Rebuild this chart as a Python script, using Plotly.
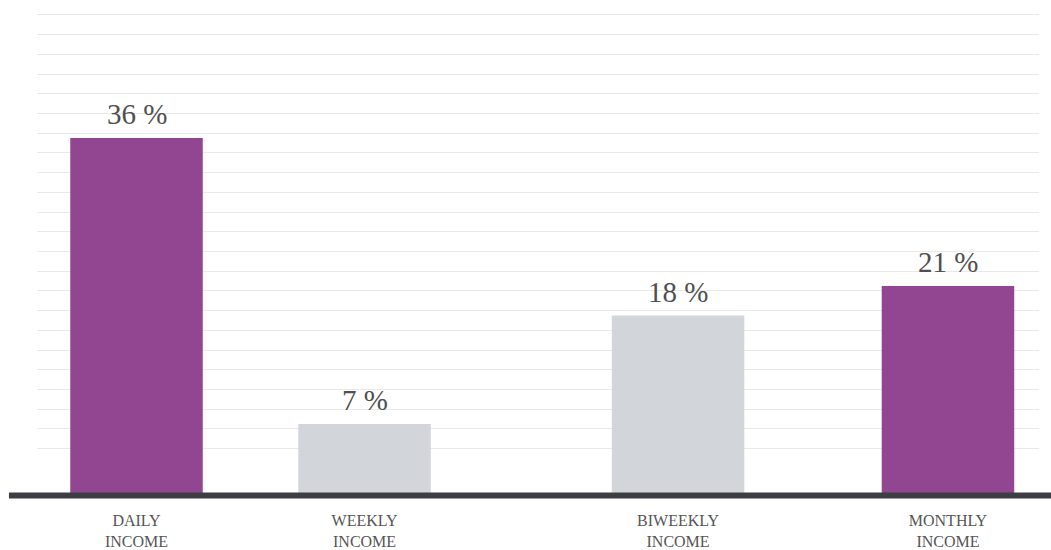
import plotly.graph_objects as go

# Share of respondents by how often they receive income
categories = ["DAILY<br>INCOME", "WEEKLY<br>INCOME", "BIWEEKLY<br>INCOME", "MONTHLY<br>INCOME"]
shares = [36, 7, 18, 21]
highlight = [True, False, False, True]

# Horizontal slot of each bar on the x axis (bar width = 1 unit)
slots = [0.751, 2.472, 4.838, 6.875]
X_RANGE = [0, 7.562]
Y_RANGE = [0, 49.5]

PURPLE = "#924591"
GREY = "#d2d5da"
TEXT = "#4f4f4f"
SERIF = "Liberation Serif, Times New Roman, serif"

colors = [PURPLE if h else GREY for h in highlight]

fig = go.Figure(
    go.Bar(
        x=slots,
        y=shares,
        width=1.0,
        marker=dict(color=colors, line=dict(width=0)),
        hoverinfo="skip",
    )
)

for xv, v in zip(slots, shares):
    fig.add_annotation(
        x=xv, y=v, text=f"{v} %", showarrow=False,
        yanchor="bottom", yshift=6,
        font=dict(family=SERIF, size=29, color=TEXT),
    )

# Heavy baseline running past the plot edges, just under the bars
fig.add_shape(
    type="line", xref="paper", yref="paper",
    x0=-0.028, x1=1.02, y0=-0.005, y1=-0.005,
    line=dict(color="#3d3e44", width=6),
    layer="above",
)

grid_vals = [4.5 + 2 * i for i in range(23)]

fig.update_layout(
    width=1051, height=550,
    margin=dict(l=37, r=12, t=5, b=57),
    paper_bgcolor="white", plot_bgcolor="white",
    showlegend=False,
    xaxis=dict(
        range=X_RANGE, tickvals=slots, ticktext=categories,
        showgrid=False, zeroline=False, showline=False, ticks="",
        ticklabelstandoff=16, automargin=False,
        tickfont=dict(family=SERIF, size=16, color="#555555"),
        fixedrange=True,
    ),
    yaxis=dict(
        range=Y_RANGE, tickvals=grid_vals, showticklabels=False,
        showgrid=True, gridcolor="#e9e9e9", gridwidth=1,
        zeroline=False, showline=False, ticks="", automargin=False,
        fixedrange=True,
    ),
)

fig.write_html("out.html")
